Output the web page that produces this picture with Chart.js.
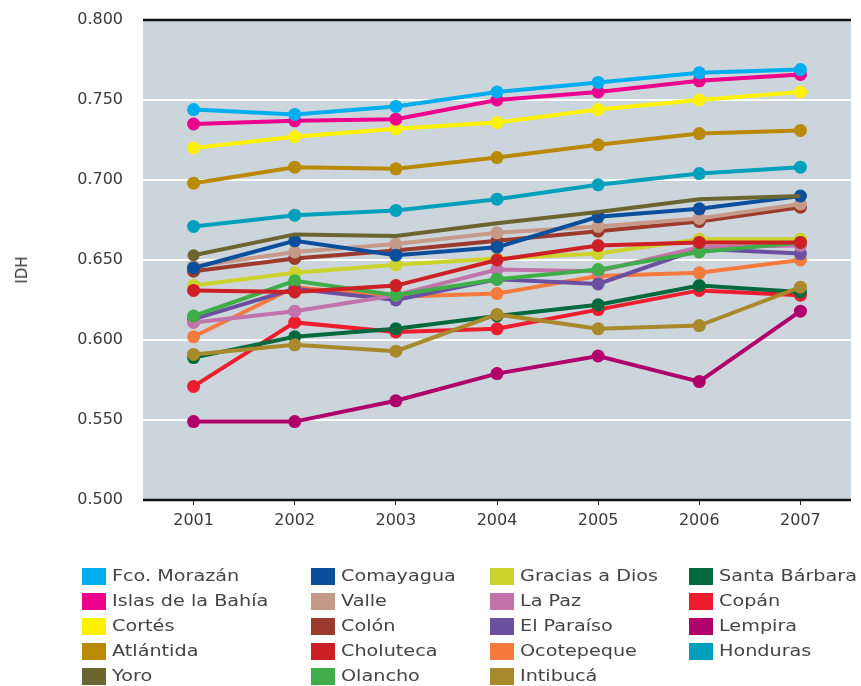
<!DOCTYPE html>
<html>
<head>
<meta charset="utf-8">
<script src="https://cdn.jsdelivr.net/npm/chart.js@4.4.1/dist/chart.umd.min.js"></script>
<style>
  html, body { margin: 0; padding: 0; background: #fff; }
  #wrap { position: relative; width: 861px; height: 686px; overflow: hidden; }
  #chart { position: absolute; left: 0; top: 0; }
  #ytitle { position: absolute; left: 22px; top: 270px; transform: translate(-50%, -50%) rotate(-90deg);
    font: 15px "DejaVu Sans", sans-serif; color: #333; }
  .leg { position: absolute; height: 17px; }
  .leg .sw { position: absolute; left: 0; top: 0; width: 24px; height: 17px; }
  .leg .tx { position: absolute; left: 30px; top: -1px; white-space: nowrap; font: 15px "DejaVu Sans", sans-serif;
    color: #444; transform: scaleX(1.28); transform-origin: 0 50%; line-height: 19px; }
</style>
</head>
<body>
<div id="wrap">
  <canvas id="chart" width="861" height="686"></canvas>
  <div id="ytitle">IDH</div>
  <div id="legend"></div>
</div>
<script>
// IDH por departamento, 2001-2007
const years = ['2001', '2002', '2003', '2004', '2005', '2006', '2007'];
const yTicks = [0.5, 0.55, 0.6, 0.65, 0.7, 0.75, 0.8];

const names = ['Fco. Morazán', 'Islas de la Bahía', 'Cortés', 'Atlántida', 'Yoro',
  'Comayagua', 'Valle', 'Colón', 'Choluteca', 'Olancho',
  'Gracias a Dios', 'La Paz', 'El Paraíso', 'Ocotepeque', 'Intibucá',
  'Santa Bárbara', 'Copán', 'Lempira', 'Honduras'];

const fcoMorazan   = [0.744, 0.741, 0.746, 0.755, 0.761, 0.767, 0.769];
const islasBahia   = [0.735, 0.737, 0.738, 0.750, 0.755, 0.762, 0.766];
const cortes       = [0.720, 0.727, 0.732, 0.736, 0.744, 0.750, 0.755];
const atlantida    = [0.698, 0.708, 0.707, 0.714, 0.722, 0.729, 0.731];
const yoro         = [0.653, 0.666, 0.665, 0.673, 0.680, 0.688, 0.690];
const comayagua    = [0.645, 0.662, 0.653, 0.658, 0.677, 0.682, 0.690];
const valle        = [0.646, 0.655, 0.660, 0.667, 0.671, 0.676, 0.685];
const colon        = [0.643, 0.651, 0.656, 0.662, 0.668, 0.674, 0.683];
const choluteca    = [0.631, 0.630, 0.634, 0.650, 0.659, 0.661, 0.661];
const olancho      = [0.615, 0.637, 0.628, 0.638, 0.644, 0.655, 0.661];
const graciasDios  = [0.634, 0.642, 0.647, 0.651, 0.654, 0.663, 0.663];
const laPaz        = [0.611, 0.618, 0.628, 0.644, 0.643, 0.658, 0.659];
const elParaiso    = [0.613, 0.632, 0.625, 0.638, 0.635, 0.657, 0.654];
const ocotepeque   = [0.602, 0.633, 0.627, 0.629, 0.640, 0.642, 0.650];
const intibuca     = [0.591, 0.597, 0.593, 0.616, 0.607, 0.609, 0.633];
const santaBarbara = [0.589, 0.602, 0.607, 0.615, 0.622, 0.634, 0.630];
const copan        = [0.571, 0.611, 0.605, 0.607, 0.619, 0.631, 0.628];
const lempira      = [0.549, 0.549, 0.562, 0.579, 0.590, 0.574, 0.618];
const honduras     = [0.671, 0.678, 0.681, 0.688, 0.697, 0.704, 0.708];

const series = [fcoMorazan, islasBahia, cortes, atlantida, yoro,
  comayagua, valle, colon, choluteca, olancho,
  graciasDios, laPaz, elParaiso, ocotepeque, intibuca,
  santaBarbara, copan, lempira, honduras];

const colors = ['#00AEEF', '#EC008C', '#FFF200', '#BA8A07', '#6B6530',
  '#0B4F9C', '#C59A88', '#9C3A2E', '#CC1F26', '#3FAE49',
  '#CBD32C', '#C173AA', '#6B4FA0', '#F47A3E', '#A8892C',
  '#006A3E', '#ED1C2E', '#B0006B', '#00A0BC'];

// posiciones de la leyenda (4 columnas, 5 filas)
const legendCols = [82, 311, 490, 689];
const legendTop = 568;
const legendStep = 25;

// fondo gris del area y bordes negros arriba/abajo
const plotBg = {
  id: 'plotBg',
  beforeDraw(chart) {
    const { ctx, chartArea: a } = chart;
    ctx.save();
    ctx.fillStyle = '#CDD5DC';
    ctx.fillRect(a.left, a.top, a.right - a.left, a.bottom - a.top);
    ctx.restore();
  },
  afterDatasetsDraw(chart) {
    const { ctx, chartArea: a } = chart;
    ctx.save();
    ctx.strokeStyle = '#111';
    ctx.lineWidth = 2.5;
    ctx.beginPath();
    ctx.moveTo(a.left, a.top); ctx.lineTo(a.right, a.top);
    ctx.moveTo(a.left, a.bottom); ctx.lineTo(a.right, a.bottom);
    ctx.stroke();
    ctx.restore();
  }
};

const datasets = series.map((d, i) => ({
  label: names[i],
  data: d,
  borderColor: colors[i],
  backgroundColor: colors[i],
  pointBackgroundColor: colors[i],
  pointBorderWidth: 0,
  borderWidth: 4,
  pointRadius: names[i] === 'Yoro' ? [6, 0, 0, 0, 0, 0, 0] : 6.5,
  tension: 0
}));

new Chart(document.getElementById('chart'), {
  type: 'line',
  data: { labels: years, datasets },
  plugins: [plotBg],
  options: {
    responsive: false,
    animation: false,
    events: [],
    layout: { padding: { left: 0, right: 10, top: 20, bottom: 146 } },
    plugins: { legend: { display: false }, tooltip: { enabled: false } },
    scales: {
      x: {
        offset: true,
        grid: { display: true, drawOnChartArea: false, drawTicks: true, tickLength: 5, color: '#222', lineWidth: 1 },
        border: { display: false },
        ticks: { color: '#3a3a3a', font: { family: 'DejaVu Sans', size: 16 }, padding: 6 },
        afterFit(s) { s.height = 40; s.paddingLeft = 0; s.paddingRight = 0; }
      },
      y: {
        min: 0.5, max: 0.8,
        afterBuildTicks(s) { s.ticks = yTicks.map(v => ({ value: v })); },
        grid: {
          drawTicks: false,
          color: ctx => (ctx.tick.value > 0.5 && ctx.tick.value < 0.8) ? '#ffffff' : 'rgba(0,0,0,0)',
          lineWidth: 2
        },
        border: { display: false },
        ticks: {
          color: '#3a3a3a', font: { family: 'DejaVu Sans', size: 16 }, padding: 20,
          callback: v => Number(v).toFixed(3)
        },
        afterFit(s) { s.width = 143; s.paddingTop = 0; s.paddingBottom = 0; }
      }
    }
  }
});

// leyenda en HTML, ordenada por columnas
const legendEl = document.getElementById('legend');
names.forEach((n, i) => {
  const col = Math.floor(i / 5), row = i % 5;
  const el = document.createElement('div');
  el.className = 'leg';
  el.style.left = legendCols[col] + 'px';
  el.style.top = (legendTop + row * legendStep) + 'px';
  el.innerHTML = `<div class="sw" style="background:${colors[i]}"></div><div class="tx">${n}</div>`;
  legendEl.appendChild(el);
});
</script>
</body>
</html>
